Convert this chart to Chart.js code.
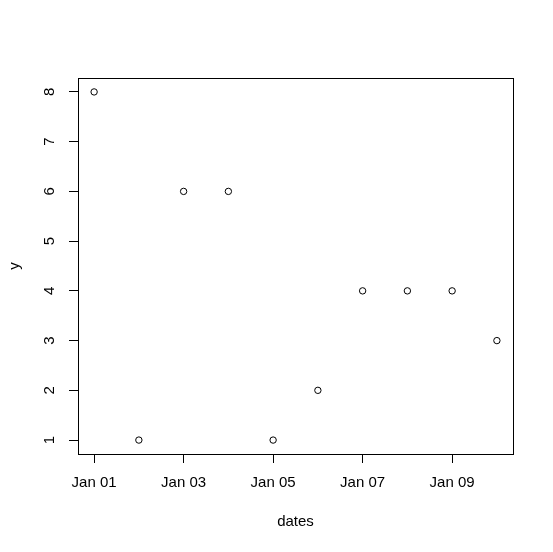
<!DOCTYPE html>
<html>
<head>
<meta charset="utf-8">
<script src="https://cdn.jsdelivr.net/npm/chart.js@4"></script>
<style>
  html, body { margin: 0; padding: 0; background: #fff; }
</style>
</head>
<body>
<canvas id="plot" width="553" height="552"></canvas>
<script>
// Data
const dateLabels = ['Jan 01', 'Jan 02', 'Jan 03', 'Jan 04', 'Jan 05', 'Jan 06', 'Jan 07', 'Jan 08', 'Jan 09', 'Jan 10'];
const dayIndex = [1, 2, 3, 4, 5, 6, 7, 8, 9, 10];
const yValues = [8, 1, 6, 6, 1, 2, 4, 4, 4, 3];
const xTickDays = [1, 3, 5, 7, 9];
const yTicks = [1, 2, 3, 4, 5, 6, 7, 8];

const font = { family: 'Arial, "Liberation Sans", sans-serif', size: 15 };

// R-style padding: 4% beyond the data range
const pad = (arr) => {
  const lo = Math.min(...arr), hi = Math.max(...arr);
  const d = (hi - lo) * 0.04;
  return [lo - d, hi + d];
};
const [xMin, xMax] = pad(dayIndex);
const [yMin, yMax] = pad(yValues);

// full box around the plot area
const boxPlugin = {
  id: 'box',
  afterDraw(chart) {
    const { ctx, chartArea: a } = chart;
    ctx.save();
    ctx.strokeStyle = '#000';
    ctx.lineWidth = 1;
    ctx.strokeRect(Math.round(a.left) + 0.5, Math.round(a.top) + 0.5,
      Math.round(a.right - a.left), Math.round(a.bottom - a.top));
    ctx.restore();
  }
};

new Chart(document.getElementById('plot'), {
  type: 'scatter',
  data: {
    datasets: [{
      data: dayIndex.map((d, i) => ({ x: d, y: yValues[i] })),
      pointStyle: 'circle',
      pointRadius: 3.2,
      pointBorderWidth: 1,
      pointBorderColor: '#000',
      pointBackgroundColor: 'rgba(0,0,0,0)',
      showLine: false
    }]
  },
  options: {
    responsive: false,
    animation: false,
    layout: { padding: { top: 78, right: 40, left: 0, bottom: 0 } },
    plugins: { legend: { display: false }, tooltip: { enabled: false } },
    scales: {
      x: {
        type: 'linear',
        min: xMin, max: xMax,
        afterBuildTicks: s => { s.ticks = xTickDays.map(v => ({ value: v })); },
        afterFit: s => { s.height = 98; },
        grid: { drawOnChartArea: false, tickLength: 9, tickColor: '#000', tickWidth: 1 },
        border: { display: false },
        ticks: {
          font, color: '#000', padding: 11, maxRotation: 0, autoSkip: false,
          callback: v => dateLabels[dayIndex.indexOf(v)]
        },
        title: { display: true, text: 'dates', font, color: '#000', padding: { top: 0, bottom: 21 } }
      },
      y: {
        min: yMin, max: yMax,
        afterBuildTicks: s => { s.ticks = yTicks.map(v => ({ value: v })); },
        afterFit: s => { s.width = 78; },
        grid: { drawOnChartArea: false, tickLength: 9, tickColor: '#000', tickWidth: 1 },
        border: { display: false },
        ticks: {
          font, color: '#000', padding: 14.5, minRotation: 90, maxRotation: 90,
          crossAlign: 'center', autoSkip: false
        },
        title: { display: true, text: 'y', font, color: '#000', padding: { top: 6, bottom: 0 } }
      }
    }
  },
  plugins: [boxPlugin]
});
</script>
</body>
</html>
